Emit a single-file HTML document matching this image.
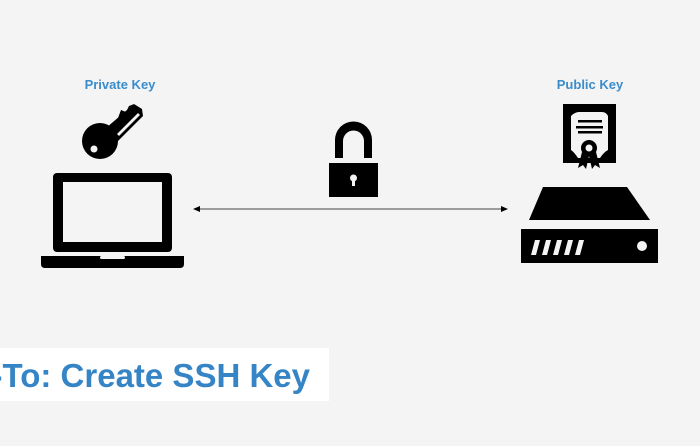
<!DOCTYPE html>
<html><head><style>
body{margin:0;width:700px;height:441px;background:#f4f4f4;overflow:hidden;font-family:"Liberation Sans",sans-serif}
</style></head><body>
<svg width="700" height="441" xmlns="http://www.w3.org/2000/svg">
<rect width="700" height="441" fill="#f4f4f4"/>
<text x="120" y="89" text-anchor="middle" font-family="Liberation Sans, sans-serif" font-weight="bold" font-size="13" fill="#3b8ccb">Private Key</text>
<text x="590" y="89" text-anchor="middle" font-family="Liberation Sans, sans-serif" font-weight="bold" font-size="13" fill="#3b8ccb">Public Key</text>
<!-- key -->
<g fill="#000">
<circle cx="100" cy="141" r="18"/>
<polygon points="106,128 134,104 142,109 143,116 118,141"/>
<polygon points="118,118 121,110 126,112 129,106 134,104"/>
</g>
<polygon points="117,134 138,113 140,115 119,136" fill="#f4f4f4"/>
<circle cx="94" cy="149" r="3.5" fill="#f4f4f4"/>
<!-- laptop -->
<rect x="53" y="173" width="119" height="79" rx="4" fill="#000"/>
<rect x="63" y="182" width="99" height="60" fill="#f4f4f4"/>
<path d="M41 256 H184 V264 Q184 268 180 268 H45 Q41 268 41 264 Z" fill="#000"/>
<rect x="100" y="256" width="25" height="3" rx="1.5" fill="#f4f4f4"/>
<!-- lock -->
<path d="M335 158 V140 A18.5 18.5 0 0 1 372 140 V158 H364 V141 A10.5 10.5 0 0 0 343 141 V158 Z" fill="#000"/>
<rect x="329" y="163" width="49" height="34" fill="#000"/>
<circle cx="353.5" cy="178" r="3.5" fill="#f4f4f4"/>
<rect x="352" y="179" width="3" height="7" fill="#f4f4f4"/>
<!-- arrow -->
<line x1="197" y1="209" x2="504" y2="209" stroke="#444" stroke-width="1"/>
<polygon points="193,209 200,206 200,212" fill="#000"/>
<polygon points="508,209 501,206 501,212" fill="#000"/>
<!-- certificate -->
<rect x="563" y="104" width="53" height="59" fill="#000"/>
<path d="M571 116 Q575 112 579 112 H602 Q606 112 608 116 V150 Q604 152 600 158 H578 Q574 152 571 150 Z" fill="#f4f4f4"/>
<rect x="578" y="120" width="24" height="2.5" fill="#000"/>
<rect x="576" y="126" width="27" height="2.5" fill="#000"/>
<rect x="578" y="131" width="24" height="2.5" fill="#000"/>
<polygon points="582,152 578,168 583,165 586,169 589,156" fill="#000"/>
<polygon points="596,152 600,168 595,165 592,169 589,156" fill="#000"/>
<circle cx="589" cy="148" r="8" fill="#000"/>
<circle cx="589" cy="148" r="3.5" fill="#f4f4f4"/>
<!-- server -->
<polygon points="543,187 627,187 650,220 529,220" fill="#000"/>
<rect x="521" y="229" width="137" height="34" fill="#000"/>
<g fill="#f4f4f4">
<polygon points="535,240 540,240 536,255 531,255"/>
<polygon points="546,240 551,240 547,255 542,255"/>
<polygon points="557,240 562,240 558,255 553,255"/>
<polygon points="568,240 573,240 569,255 564,255"/>
<polygon points="579,240 584,240 580,255 575,255"/>
<circle cx="642" cy="246" r="5"/>
</g>
<!-- banner -->
<rect x="0" y="348" width="329" height="53" fill="#fff"/>
<text x="310" y="387" text-anchor="end" font-family="Liberation Sans, sans-serif" font-weight="bold" font-size="33" fill="#3584c6">How-To: Create SSH Key</text>
</svg>
</body></html>
